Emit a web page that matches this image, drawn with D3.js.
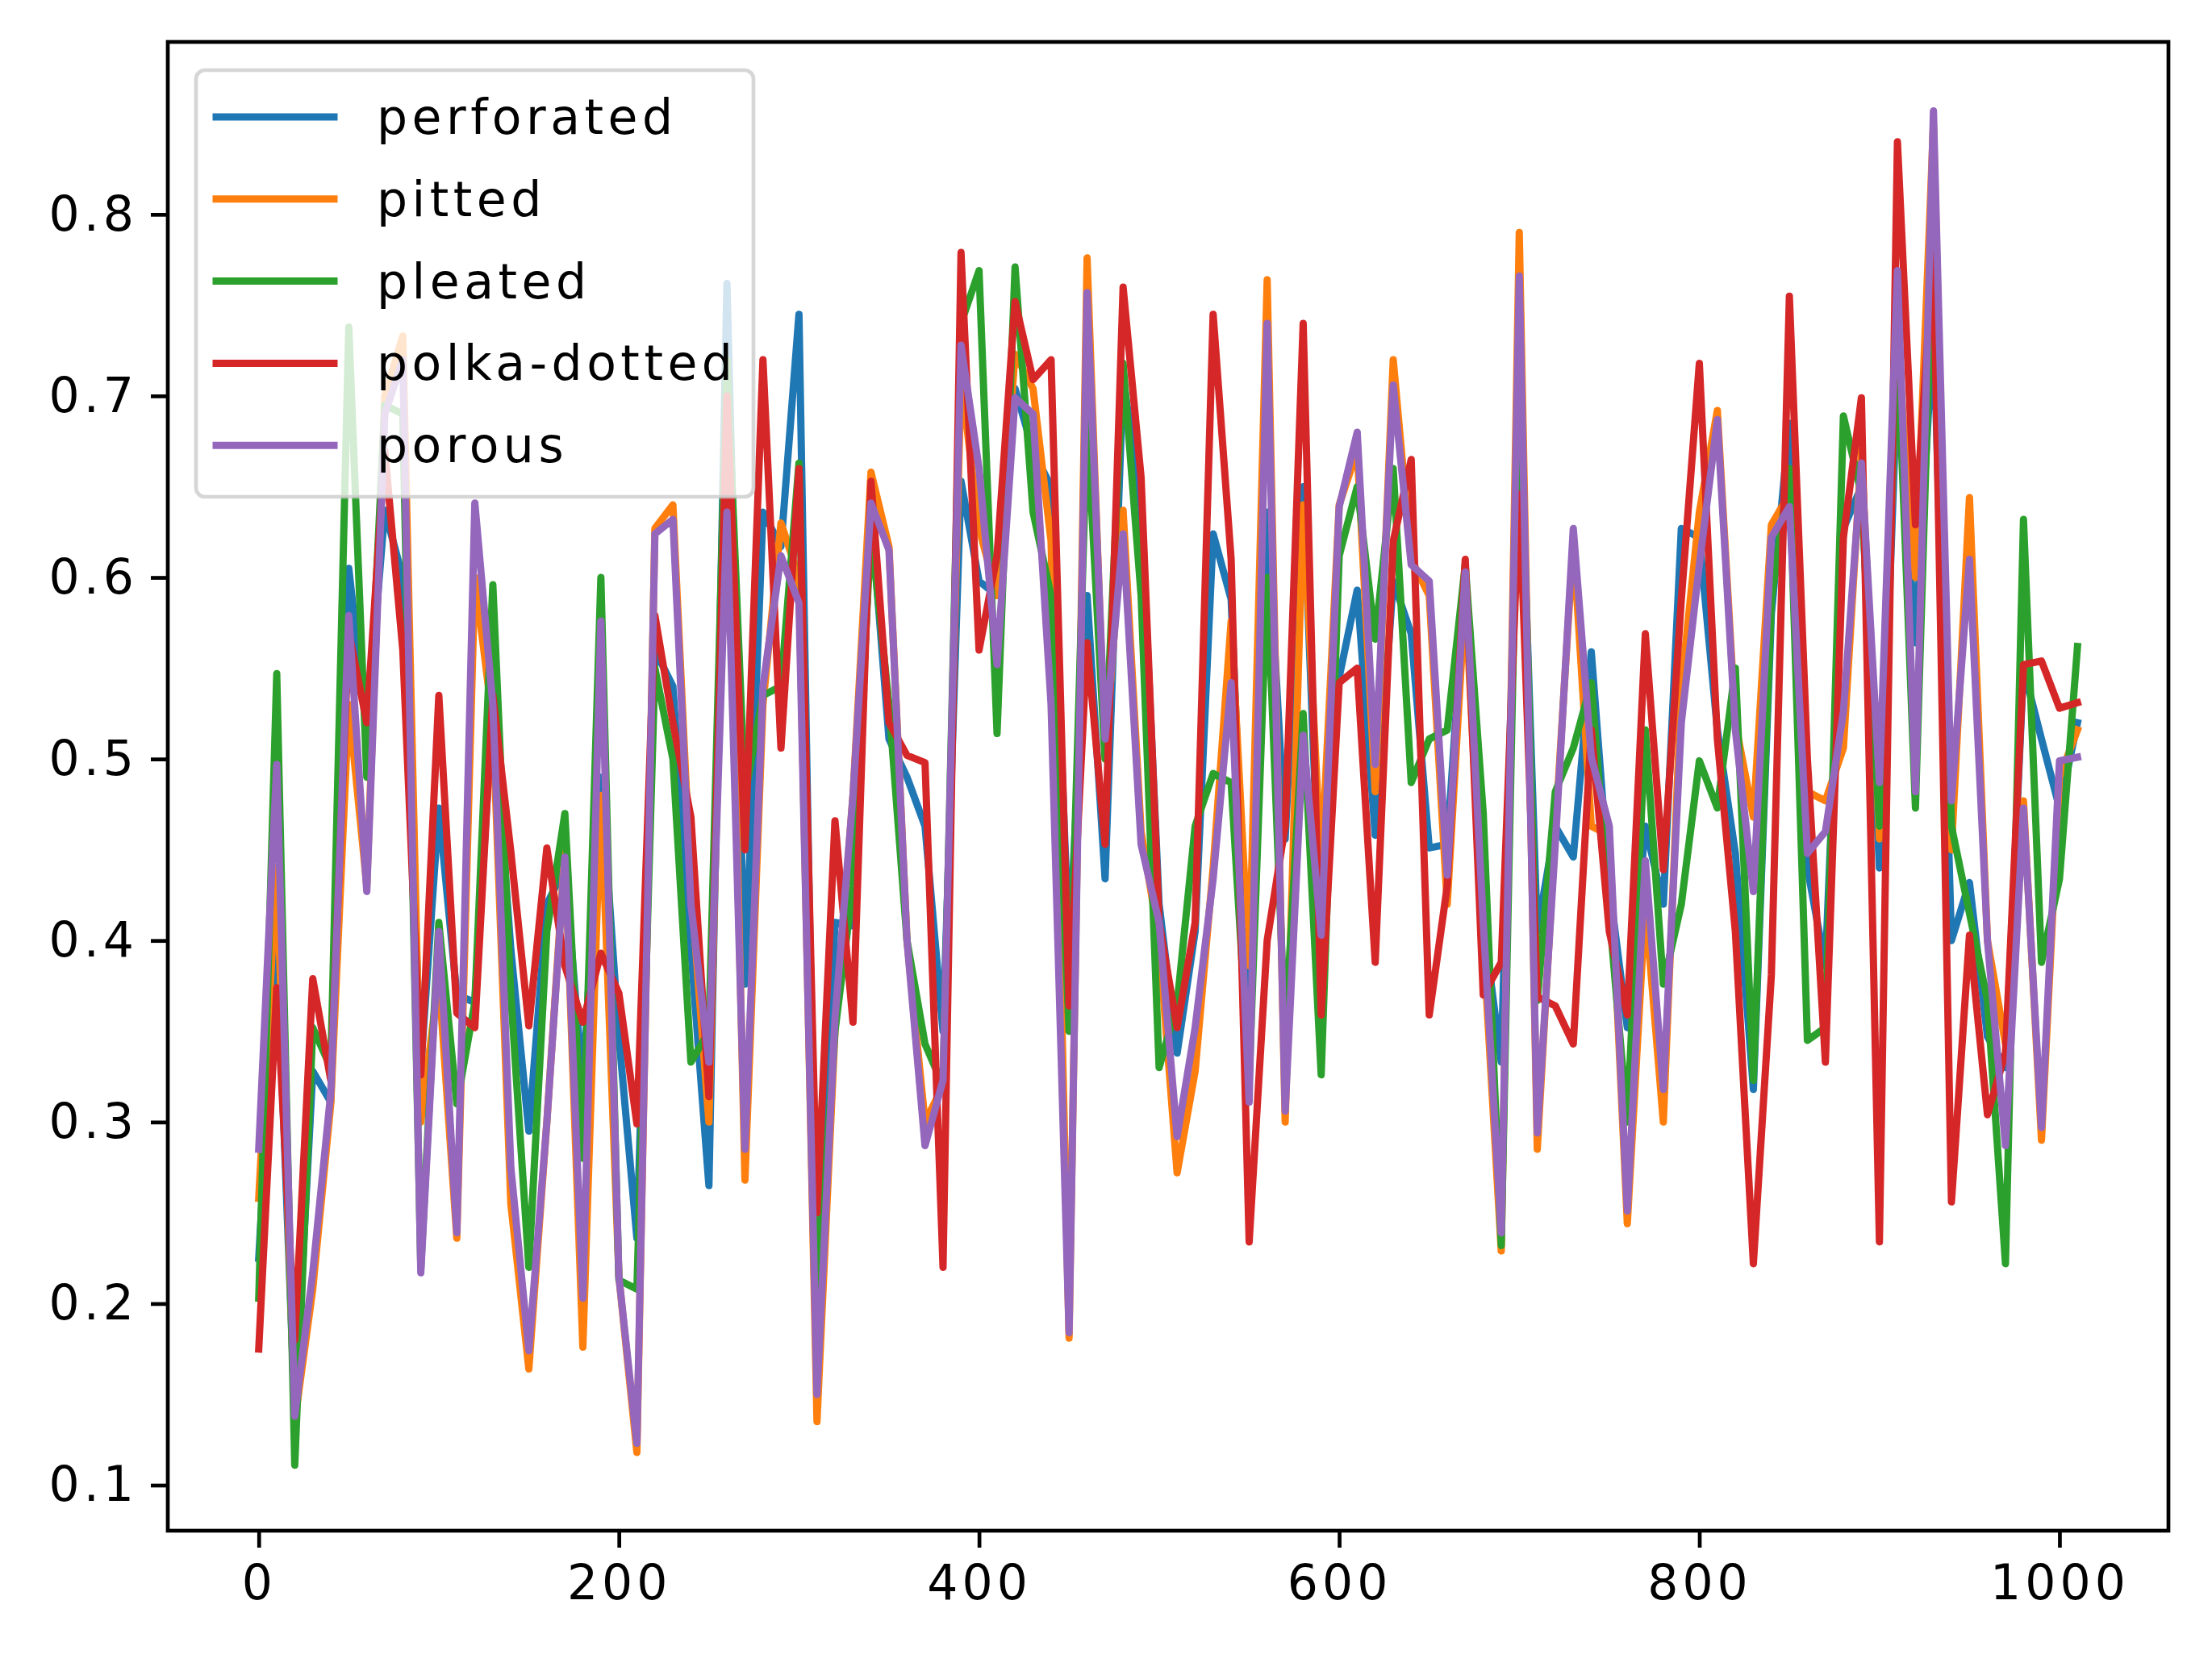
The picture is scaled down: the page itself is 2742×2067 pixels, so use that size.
<!DOCTYPE html>
<html>
<head>
<meta charset="utf-8">
<script src="https://cdn.jsdelivr.net/npm/d3@7"></script>
<style>
  body { margin: 0; background: #fff; }
  svg { display: block; }
  text { font-family: "DejaVu Sans", sans-serif; }
</style>
</head>
<body>
<svg id="chart" width="2742" height="2067"></svg>
<script>
// x positions, 0..1010 every 10
const xs = d3.range(0, 1020, 10)

const seriesNames = ["perforated", "pitted", "pleated", "polka-dotted", "porous"]
const colors = ["#1f77b4", "#ff7f0e", "#2ca02c", "#d62728", "#9467bd"]

const perforated = [0.225, 0.40, 0.14, 0.328, 0.311, 0.605, 0.516, 0.637, 0.60, 0.33,
  0.473, 0.37, 0.366, 0.53, 0.395, 0.295, 0.42, 0.44, 0.32, 0.49,
  0.347, 0.236, 0.56, 0.54, 0.395, 0.265, 0.762, 0.376, 0.636, 0.617,
  0.745, 0.18, 0.41, 0.408, 0.636, 0.511, 0.49, 0.463, 0.35, 0.653,
  0.598, 0.59, 0.704, 0.67, 0.65, 0.395, 0.59, 0.434, 0.71, 0.64,
  0.42, 0.338, 0.405, 0.624, 0.588, 0.347, 0.636, 0.456, 0.65, 0.395,
  0.545, 0.593, 0.458, 0.598, 0.569, 0.451, 0.453, 0.60, 0.41, 0.333,
  0.70, 0.405, 0.463, 0.446, 0.559, 0.43, 0.352, 0.463, 0.42, 0.627,
  0.622, 0.516, 0.448, 0.318, 0.58, 0.685, 0.44, 0.386, 0.627, 0.65,
  0.44, 0.71, 0.564, 0.74, 0.40, 0.432, 0.347, 0.33, 0.55, 0.511,
  0.473, 0.52]
const pitted = [0.258, 0.44, 0.135, 0.208, 0.31, 0.53, 0.43, 0.70, 0.733, 0.30,
  0.38, 0.236, 0.60, 0.52, 0.255, 0.164, 0.30, 0.45, 0.176, 0.48,
  0.215, 0.118, 0.627, 0.64, 0.43, 0.30, 0.70, 0.268, 0.53, 0.63,
  0.60, 0.135, 0.35, 0.48, 0.658, 0.617, 0.40, 0.30, 0.32, 0.71,
  0.627, 0.59, 0.723, 0.704, 0.62, 0.181, 0.776, 0.50, 0.637, 0.46,
  0.40, 0.272, 0.328, 0.44, 0.576, 0.386, 0.764, 0.30, 0.64, 0.44,
  0.64, 0.67, 0.482, 0.72, 0.61, 0.59, 0.42, 0.59, 0.40, 0.229,
  0.79, 0.285, 0.46, 0.62, 0.463, 0.458, 0.244, 0.42, 0.30, 0.54,
  0.636, 0.692, 0.52, 0.468, 0.629, 0.646, 0.482, 0.477, 0.506, 0.67,
  0.456, 0.73, 0.60, 0.85, 0.45, 0.644, 0.40, 0.343, 0.477, 0.29,
  0.49, 0.516]
const pleated = [0.203, 0.547, 0.111, 0.352, 0.33, 0.738, 0.49, 0.695, 0.69, 0.22,
  0.41, 0.31, 0.366, 0.596, 0.37, 0.22, 0.405, 0.47, 0.28, 0.60,
  0.213, 0.208, 0.55, 0.50, 0.333, 0.35, 0.72, 0.48, 0.535, 0.54,
  0.663, 0.20, 0.35, 0.43, 0.626, 0.53, 0.40, 0.343, 0.32, 0.74,
  0.769, 0.514, 0.771, 0.636, 0.59, 0.35, 0.685, 0.50, 0.718, 0.59,
  0.33, 0.365, 0.463, 0.492, 0.487, 0.323, 0.60, 0.347, 0.525, 0.326,
  0.612, 0.65, 0.566, 0.66, 0.487, 0.511, 0.516, 0.607, 0.47, 0.232,
  0.72, 0.367, 0.482, 0.506, 0.542, 0.415, 0.30, 0.516, 0.376, 0.42,
  0.499, 0.473, 0.55, 0.323, 0.588, 0.66, 0.345, 0.352, 0.689, 0.646,
  0.463, 0.73, 0.473, 0.80, 0.463, 0.415, 0.367, 0.222, 0.632, 0.388,
  0.434, 0.562]
const polkaDotted = [0.175, 0.374, 0.18, 0.379, 0.323, 0.57, 0.52, 0.67, 0.56, 0.326,
  0.535, 0.36, 0.352, 0.535, 0.449, 0.353, 0.451, 0.386, 0.355, 0.393,
  0.371, 0.299, 0.579, 0.52, 0.468, 0.314, 0.70, 0.45, 0.72, 0.506,
  0.66, 0.25, 0.466, 0.355, 0.653, 0.52, 0.502, 0.498, 0.22, 0.779,
  0.56, 0.612, 0.752, 0.709, 0.72, 0.364, 0.564, 0.453, 0.76, 0.655,
  0.41, 0.352, 0.41, 0.745, 0.61, 0.234, 0.40, 0.463, 0.74, 0.359,
  0.542, 0.55, 0.388, 0.62, 0.665, 0.359, 0.43, 0.61, 0.37, 0.388,
  0.646, 0.369, 0.364, 0.343, 0.516, 0.405, 0.359, 0.569, 0.439, 0.588,
  0.718, 0.511, 0.405, 0.222, 0.381, 0.755, 0.50, 0.333, 0.622, 0.699,
  0.234, 0.84, 0.629, 0.78, 0.256, 0.403, 0.304, 0.338, 0.552, 0.554,
  0.528, 0.531]
const porous = [0.285, 0.497, 0.138, 0.217, 0.316, 0.579, 0.427, 0.69, 0.72, 0.217,
  0.405, 0.239, 0.641, 0.53, 0.275, 0.174, 0.30, 0.446, 0.203, 0.576,
  0.215, 0.123, 0.624, 0.632, 0.42, 0.333, 0.636, 0.285, 0.54, 0.612,
  0.586, 0.15, 0.357, 0.48, 0.641, 0.615, 0.40, 0.287, 0.323, 0.728,
  0.66, 0.552, 0.699, 0.69, 0.53, 0.184, 0.757, 0.511, 0.624, 0.453,
  0.41, 0.292, 0.352, 0.434, 0.542, 0.311, 0.74, 0.306, 0.513, 0.403,
  0.639, 0.68, 0.497, 0.706, 0.607, 0.598, 0.436, 0.603, 0.41, 0.239,
  0.766, 0.294, 0.453, 0.627, 0.501, 0.463, 0.251, 0.444, 0.318, 0.52,
  0.607, 0.687, 0.516, 0.427, 0.622, 0.639, 0.448, 0.46, 0.526, 0.663,
  0.487, 0.769, 0.482, 0.857, 0.477, 0.61, 0.40, 0.287, 0.473, 0.297,
  0.499, 0.501]

const xTicks = [0, 200, 400, 600, 800, 1000]
const yTicks = [0.1, 0.2, 0.3, 0.4, 0.5, 0.6, 0.7, 0.8]

const allSeries = [perforated, pitted, pleated, polkaDotted, porous]

draw()

function draw () {
  let svg = d3.select("#chart")

  const left = 208, right = 2688, top = 52, bottom = 1898

  const x = d3.scaleLinear().domain([-50.5, 1060.5]).range([left, right])
  const y = d3.scaleLinear().domain([0.0749, 0.895]).range([bottom, top])

  const fontSize = 60

  // lines
  const line = d3.line()
      .x(function(d) { return x(d[0]) })
      .y(function(d) { return y(d[1]) })

  svg.append("g")
      .attr("class", "lines")
    .selectAll("path")
    .data(allSeries)
    .enter().append("path")
      .attr("d", function(vals) { return line(xs.map(function(v, i) { return [v, vals[i]] })) })
      .attr("fill", "none")
      .attr("stroke", function(d, i) { return colors[i] })
      .attr("stroke-width", 9)
      .attr("stroke-linejoin", "round")
      .attr("stroke-linecap", "square")

  // axes
  const xAxis = svg.append("g")
      .attr("transform", "translate(0," + bottom + ")")
      .call(d3.axisBottom(x).tickValues(xTicks).tickFormat(d3.format("d")).tickSize(21).tickPadding(21))
  const yAxis = svg.append("g")
      .attr("transform", "translate(" + left + ",0)")
      .call(d3.axisLeft(y).tickValues(yTicks).tickFormat(d3.format(".1f")).tickSize(21).tickPadding(16))

  ;[xAxis, yAxis].forEach(function(g) {
    g.select(".domain").remove()
    g.selectAll(".tick line").attr("stroke", "#000").attr("stroke-width", 4.7)
    g.selectAll(".tick text")
        .attr("fill", "#000")
        .style("font-size", fontSize + "px")
        .style("font-family", "DejaVu Sans")
        .style("letter-spacing", "5px")
  })

  svg.append("rect")
      .attr("x", left).attr("y", top)
      .attr("width", right - left).attr("height", bottom - top)
      .attr("fill", "none")
      .attr("stroke", "#000")
      .attr("stroke-width", 4.7)

  // legend
  const legend = svg.append("g").attr("class", "legend")
  legend.append("rect")
      .attr("x", 243).attr("y", 87)
      .attr("width", 691).attr("height", 529)
      .attr("rx", 11)
      .attr("fill", "#fff")
      .attr("fill-opacity", 0.8)
      .attr("stroke", "#cccccc")
      .attr("stroke-opacity", 0.8)
      .attr("stroke-width", 4.7)

  const rows = legend.selectAll("g.row")
    .data(seriesNames)
    .enter().append("g")
      .attr("class", "row")
      .attr("transform", function(d, i) { return "translate(0," + (145 + i * 101.8) + ")" })

  rows.append("line")
      .attr("x1", 268).attr("x2", 414)
      .attr("stroke", function(d, i) { return colors[i] })
      .attr("stroke-width", 9)
      .attr("stroke-linecap", "square")

  rows.append("text")
      .attr("x", 467)
      .attr("dy", "0.35em")
      .style("font-size", fontSize + "px")
      .style("letter-spacing", "5.5px")
      .text(function(d) { return d })
}
</script>
</body>
</html>
